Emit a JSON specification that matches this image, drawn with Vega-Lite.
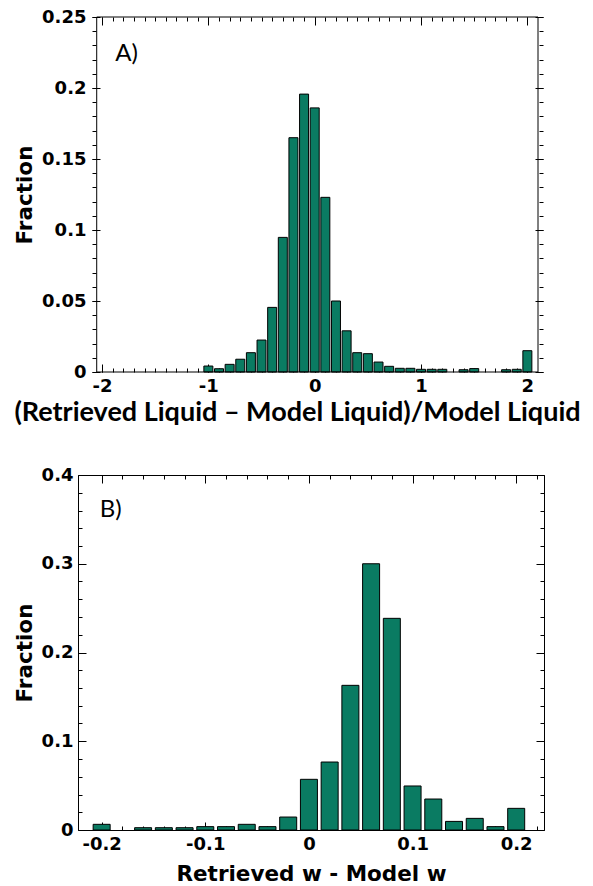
{
  "$schema": "https://vega.github.io/schema/vega-lite/v6.json",
  "padding": {"left": 13, "top": 8, "right": 5, "bottom": 0},
  "background": "white",
  "concat": [
    {
      "width": 465,
      "height": 355,
      "view": {"stroke": null},
      "data": {"values": [
        {"x": -1.0, "fraction": 0.0042},
        {"x": -0.9, "fraction": 0.0023},
        {"x": -0.8, "fraction": 0.0054},
        {"x": -0.7, "fraction": 0.009},
        {"x": -0.6, "fraction": 0.0136},
        {"x": -0.5, "fraction": 0.0225},
        {"x": -0.4, "fraction": 0.0455},
        {"x": -0.3, "fraction": 0.0948},
        {"x": -0.2, "fraction": 0.165},
        {"x": -0.1, "fraction": 0.1957},
        {"x": 0.0, "fraction": 0.186},
        {"x": 0.1, "fraction": 0.123},
        {"x": 0.2, "fraction": 0.05},
        {"x": 0.3, "fraction": 0.029},
        {"x": 0.4, "fraction": 0.0136},
        {"x": 0.5, "fraction": 0.0129},
        {"x": 0.6, "fraction": 0.007},
        {"x": 0.7, "fraction": 0.004},
        {"x": 0.8, "fraction": 0.0026},
        {"x": 0.9, "fraction": 0.0026},
        {"x": 1.0, "fraction": 0.0019},
        {"x": 1.1, "fraction": 0.0019},
        {"x": 1.2, "fraction": 0.0019},
        {"x": 1.4, "fraction": 0.0016},
        {"x": 1.5, "fraction": 0.0024},
        {"x": 1.8, "fraction": 0.0016},
        {"x": 1.9, "fraction": 0.0019},
        {"x": 2.0, "fraction": 0.015}
      ]},
      "layer": [
        {
          "mark": {"type": "bar", "width": 9, "fill": "#0a7b62", "stroke": "black", "strokeWidth": 1},
          "encoding": {
            "x": {"field": "x", "type": "quantitative",
                  "scale": {"domain": [-2.179, 2.1], "nice": false, "zero": false},
                  "axis": {"orient": "bottom", "values": [-2, -1, 0, 1, 2], "labelExpr": "'' + datum.value",
                           "tickSize": -8, "labelPadding": 13,
                           "title": "(Retrieved Liquid – Model Liquid)/Model Liquid",
                           "titleFont": "Lato", "titleFontSize": 27, "titlePadding": 4, "titleX": 219}},
            "y": {"field": "fraction", "type": "quantitative",
                  "scale": {"domain": [0, 0.25], "nice": false, "zero": true},
                  "axis": {"orient": "left", "offset": -14, "values": [0, 0.05, 0.1, 0.15, 0.2, 0.25], "labelExpr": "'' + datum.value",
                           "tickSize": -8, "labelPadding": 14, "title": "Fraction", "titlePadding": 5}}
          }
        },
        {
          "mark": {"type": "point", "opacity": 0},
          "encoding": {
            "x": {"field": "x", "type": "quantitative",
                  "scale": {"domain": [-2.179, 2.1], "nice": false, "zero": false},
                  "axis": {"orient": "bottom", "labels": false, "title": null, "tickSize": -4,
                           "values": [-2, -1.9, -1.8, -1.7, -1.6, -1.5, -1.4, -1.3, -1.2, -1.1, -1, -0.9, -0.8, -0.7, -0.6, -0.5, -0.4, -0.3, -0.2, -0.1, 0, 0.1, 0.2, 0.3, 0.4, 0.5, 0.6, 0.7, 0.8, 0.9, 1, 1.1, 1.2, 1.3, 1.4, 1.5, 1.6, 1.7, 1.8, 1.9, 2]}},
            "y": {"field": "fraction", "type": "quantitative",
                  "scale": {"domain": [0, 0.25], "nice": false, "zero": true},
                  "axis": {"orient": "left", "offset": -14, "labels": false, "title": null, "tickSize": -4,
                           "values": [0, 0.01, 0.02, 0.03, 0.04, 0.05, 0.06, 0.07, 0.08, 0.09, 0.1, 0.11, 0.12, 0.13, 0.14, 0.15, 0.16, 0.17, 0.18, 0.19, 0.2, 0.21, 0.22, 0.23, 0.24, 0.25]}}
          }
        },
        {
          "mark": {"type": "point", "opacity": 0},
          "encoding": {
            "x": {"field": "x", "type": "quantitative",
                  "scale": {"domain": [-2.179, 2.1], "nice": false, "zero": false},
                  "axis": {"orient": "top", "labels": false, "title": null, "tickSize": -8, "values": [-2, -1, 0, 1, 2]}},
            "y": {"field": "fraction", "type": "quantitative",
                  "scale": {"domain": [0, 0.25], "nice": false, "zero": true},
                  "axis": {"orient": "right", "labels": false, "title": null, "tickSize": -8, "values": [0, 0.05, 0.1, 0.15, 0.2, 0.25]}}
          }
        },
        {
          "mark": {"type": "point", "opacity": 0},
          "encoding": {
            "x": {"field": "x", "type": "quantitative",
                  "scale": {"domain": [-2.179, 2.1], "nice": false, "zero": false},
                  "axis": {"orient": "top", "labels": false, "title": null, "tickSize": -4,
                           "values": [-2, -1.9, -1.8, -1.7, -1.6, -1.5, -1.4, -1.3, -1.2, -1.1, -1, -0.9, -0.8, -0.7, -0.6, -0.5, -0.4, -0.3, -0.2, -0.1, 0, 0.1, 0.2, 0.3, 0.4, 0.5, 0.6, 0.7, 0.8, 0.9, 1, 1.1, 1.2, 1.3, 1.4, 1.5, 1.6, 1.7, 1.8, 1.9, 2]}},
            "y": {"field": "fraction", "type": "quantitative",
                  "scale": {"domain": [0, 0.25], "nice": false, "zero": true},
                  "axis": {"orient": "right", "labels": false, "title": null, "tickSize": -4,
                           "values": [0, 0.01, 0.02, 0.03, 0.04, 0.05, 0.06, 0.07, 0.08, 0.09, 0.1, 0.11, 0.12, 0.13, 0.14, 0.15, 0.16, 0.17, 0.18, 0.19, 0.2, 0.21, 0.22, 0.23, 0.24, 0.25]}}
          }
        },
        {
          "data": {"values": [{"panel": "A"}]},
          "mark": {"type": "rect", "fill": null, "stroke": "black", "strokeWidth": 1},
          "encoding": {
            "x": {"datum": -2.05, "type": "quantitative", "axis": null},
            "x2": {"datum": 2.1},
            "y": {"datum": 0, "type": "quantitative", "axis": null},
            "y2": {"datum": 0.25}
          }
        },
        {
          "data": {"values": [{"panel": "A"}]},
          "mark": {"type": "text", "align": "left", "baseline": "alphabetic", "font": "Lato", "fontSize": 24, "fontWeight": "normal", "color": "black"},
          "encoding": {
            "x": {"datum": -1.876, "type": "quantitative", "axis": null},
            "y": {"datum": 0.219, "type": "quantitative", "axis": null},
            "text": {"value": "A)"}
          }
        }
      ],
      "resolve": {"axis": {"x": "independent", "y": "independent"}}
    },
    {
      "width": 466,
      "height": 355,
      "data": {"values": [
        {"x": -0.2, "fraction": 0.0064},
        {"x": -0.16, "fraction": 0.0026},
        {"x": -0.14, "fraction": 0.0026},
        {"x": -0.12, "fraction": 0.0026},
        {"x": -0.1, "fraction": 0.0038},
        {"x": -0.08, "fraction": 0.0038},
        {"x": -0.06, "fraction": 0.0064},
        {"x": -0.04, "fraction": 0.0038},
        {"x": -0.02, "fraction": 0.0146},
        {"x": 0.0, "fraction": 0.0571},
        {"x": 0.02, "fraction": 0.0766},
        {"x": 0.04, "fraction": 0.163},
        {"x": 0.06, "fraction": 0.3},
        {"x": 0.08, "fraction": 0.2385},
        {"x": 0.1, "fraction": 0.0496},
        {"x": 0.12, "fraction": 0.0349},
        {"x": 0.14, "fraction": 0.0097},
        {"x": 0.16, "fraction": 0.0131},
        {"x": 0.18, "fraction": 0.0038},
        {"x": 0.2, "fraction": 0.0244}
      ]},
      "layer": [
        {
          "mark": {"type": "bar", "width": 17, "fill": "#0a7b62", "stroke": "black", "strokeWidth": 1},
          "encoding": {
            "x": {"field": "x", "type": "quantitative",
                  "scale": {"domain": [-0.218, 0.222], "nice": false, "zero": false},
                  "axis": {"orient": "bottom", "values": [-0.2, -0.1, 0, 0.1, 0.2], "labelExpr": "'' + datum.value",
                           "tickSize": -8, "labelPadding": 13,
                           "title": "Retrieved w - Model w", "titlePadding": 10}},
            "y": {"field": "fraction", "type": "quantitative",
                  "scale": {"domain": [0, 0.4], "nice": false, "zero": true},
                  "axis": {"orient": "left", "values": [0, 0.1, 0.2, 0.3, 0.4], "labelExpr": "'' + datum.value",
                           "tickSize": -8, "labelPadding": 13, "title": "Fraction", "titlePadding": 5}}
          }
        },
        {
          "mark": {"type": "point", "opacity": 0},
          "encoding": {
            "x": {"field": "x", "type": "quantitative",
                  "scale": {"domain": [-0.218, 0.222], "nice": false, "zero": false},
                  "axis": {"orient": "bottom", "labels": false, "title": null, "tickSize": -4,
                           "values": [-0.2, -0.18, -0.16, -0.14, -0.12, -0.1, -0.08, -0.06, -0.04, -0.02, 0, 0.02, 0.04, 0.06, 0.08, 0.1, 0.12, 0.14, 0.16, 0.18, 0.2, 0.22]}},
            "y": {"field": "fraction", "type": "quantitative",
                  "scale": {"domain": [0, 0.4], "nice": false, "zero": true},
                  "axis": {"orient": "left", "labels": false, "title": null, "tickSize": -4,
                           "values": [0, 0.02, 0.04, 0.06, 0.08, 0.1, 0.12, 0.14, 0.16, 0.18, 0.2, 0.22, 0.24, 0.26, 0.28, 0.3, 0.32, 0.34, 0.36, 0.38, 0.4]}}
          }
        },
        {
          "mark": {"type": "point", "opacity": 0},
          "encoding": {
            "x": {"field": "x", "type": "quantitative",
                  "scale": {"domain": [-0.218, 0.222], "nice": false, "zero": false},
                  "axis": {"orient": "top", "labels": false, "title": null, "tickSize": -8, "values": [-0.2, -0.1, 0, 0.1, 0.2]}},
            "y": {"field": "fraction", "type": "quantitative",
                  "scale": {"domain": [0, 0.4], "nice": false, "zero": true},
                  "axis": {"orient": "right", "labels": false, "title": null, "tickSize": -8, "values": [0, 0.1, 0.2, 0.3, 0.4]}}
          }
        },
        {
          "mark": {"type": "point", "opacity": 0},
          "encoding": {
            "x": {"field": "x", "type": "quantitative",
                  "scale": {"domain": [-0.218, 0.222], "nice": false, "zero": false},
                  "axis": {"orient": "top", "labels": false, "title": null, "tickSize": -4,
                           "values": [-0.2, -0.18, -0.16, -0.14, -0.12, -0.1, -0.08, -0.06, -0.04, -0.02, 0, 0.02, 0.04, 0.06, 0.08, 0.1, 0.12, 0.14, 0.16, 0.18, 0.2, 0.22]}},
            "y": {"field": "fraction", "type": "quantitative",
                  "scale": {"domain": [0, 0.4], "nice": false, "zero": true},
                  "axis": {"orient": "right", "labels": false, "title": null, "tickSize": -4,
                           "values": [0, 0.02, 0.04, 0.06, 0.08, 0.1, 0.12, 0.14, 0.16, 0.18, 0.2, 0.22, 0.24, 0.26, 0.28, 0.3, 0.32, 0.34, 0.36, 0.38, 0.4]}}
          }
        },
        {
          "data": {"values": [{"panel": "B"}]},
          "mark": {"type": "text", "align": "left", "baseline": "alphabetic", "font": "Lato", "fontSize": 24, "fontWeight": "normal", "color": "black"},
          "encoding": {
            "x": {"datum": -0.2019, "type": "quantitative", "axis": null},
            "y": {"datum": 0.3527, "type": "quantitative", "axis": null},
            "text": {"value": "B)"}
          }
        }
      ],
      "resolve": {"axis": {"x": "independent", "y": "independent"}}
    }
  ],
  "columns": 1,
  "spacing": 40,
  "config": {
    "view": {"stroke": "black", "strokeWidth": 1},
    "axis": {
      "domain": false, "grid": false, "ticks": true,
      "tickColor": "black", "tickWidth": 1,
      "labelColor": "black", "labelFont": "DejaVu Sans", "labelFontSize": 18, "labelFontWeight": "bold",
      "labelFlush": false, "labelOverlap": false,
      "titleColor": "black", "titleFont": "DejaVu Sans", "titleFontSize": 21.5, "titleFontWeight": "bold"
    }
  }
}
